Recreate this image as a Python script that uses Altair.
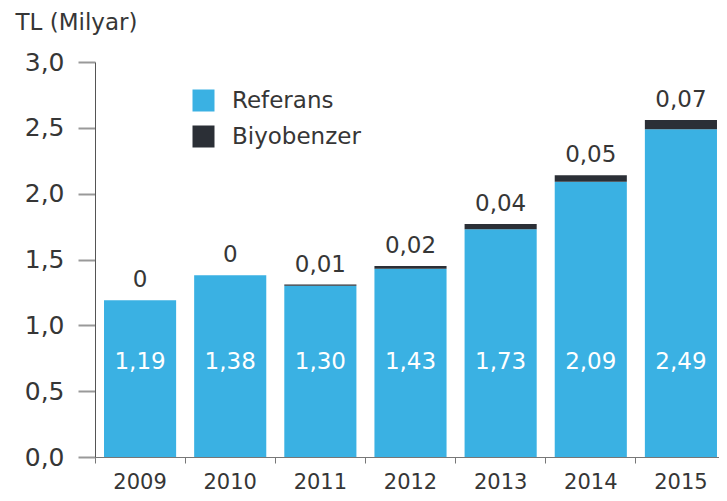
import altair as alt
import pandas as pd

years = ["2009", "2010", "2011", "2012", "2013", "2014", "2015"]
referans = [1.19, 1.38, 1.30, 1.43, 1.73, 2.09, 2.49]
biyobenzer = [0.0, 0.0, 0.01, 0.02, 0.04, 0.05, 0.07]
series = ["Referans", "Biyobenzer"]
colors = ["#3AB1E3", "#2B2F36"]
y_ticks = [0, 0.5, 1.0, 1.5, 2.0, 2.5, 3.0]

FONT = "DejaVu Sans"
TXT = "#363636"

long_rows = []
for i, y in enumerate(years):
    long_rows.append({"year": y, "series": series[0], "value": referans[i], "ord": 0})
    long_rows.append({"year": y, "series": series[1], "value": biyobenzer[i], "ord": 1})
long_df = pd.DataFrame(long_rows)

wide_df = pd.DataFrame({"year": years, "ref": referans, "bio": biyobenzer})

x_scale = alt.Scale(paddingInner=0.2, paddingOuter=0.1, range=[0, 631])

x_enc = alt.X(
    "year:N",
    sort=years,
    scale=x_scale,
    axis=alt.Axis(
        title=None,
        labelAngle=0,
        labelFont=FONT,
        labelFontSize=21,
        labelColor=TXT,
        labelPadding=8,
        tickSize=6,
        tickColor="#777",
        domainColor="#777",
        bandPosition=-0.125,
    ),
)

bars = alt.Chart(long_df).mark_bar().encode(
    x=x_enc,
    y=alt.Y(
        "value:Q",
        stack="zero",
        scale=alt.Scale(domain=[0, 3], nice=False),
        axis=alt.Axis(
            values=y_ticks,
            labelExpr="replace(format(datum.value, '.1f'), '.', ',')",
            labelFont=FONT,
            labelFontSize=25,
            labelColor=TXT,
            labelPadding=14,
            tickSize=17,
            tickColor="#999",
            tickWidth=2,
            domainColor="#555",
            grid=False,
            title="TL (Milyar)",
            titleAngle=0,
            titleAlign="left",
            titleBaseline="alphabetic",
            titleX=-80,
            titleY=-33,
            titleFont=FONT,
            titleFontSize=23,
            titleFontWeight="normal",
            titleColor=TXT,
        ),
    ),
    color=alt.Color(
        "series:N",
        scale=alt.Scale(domain=series, range=colors),
        legend=alt.Legend(
            title=None,
            orient="none",
            legendX=97,
            legendY=27,
            symbolType="square",
            symbolSize=484,
            symbolStrokeWidth=0,
            labelFont=FONT,
            labelFontSize=23,
            labelColor=TXT,
            labelOffset=17,
            rowPadding=12,
            padding=0,
        ),
    ),
    order=alt.Order("ord:Q"),
)

inside = alt.Chart(wide_df).mark_text(
    font=FONT, fontSize=23, color="white", baseline="middle"
).transform_calculate(
    lab="replace(format(datum.ref, '.2f'), '.', ',')"
).encode(
    x=alt.X("year:N", sort=years, scale=x_scale),
    y=alt.value(300),
    text="lab:N",
)

top = alt.Chart(wide_df).mark_text(
    font=FONT, fontSize=23, color=TXT, baseline="alphabetic", dy=-13
).transform_calculate(
    total="datum.ref + datum.bio",
    lab="datum.bio == 0 ? '0' : replace(format(datum.bio, '.2f'), '.', ',')",
).encode(
    x=alt.X("year:N", sort=years, scale=x_scale),
    y=alt.Y("total:Q"),
    text="lab:N",
)

chart = (
    alt.layer(bars, inside, top)
    .properties(
        width=624,
        height=395,
        autosize=alt.AutoSizeParams(type="none"),
        padding={"left": 87, "top": 54, "right": 0, "bottom": 36},
    )
    .configure_view(stroke=None)
)

chart.save("out.html", embed_options={"renderer": "svg", "actions": False})
